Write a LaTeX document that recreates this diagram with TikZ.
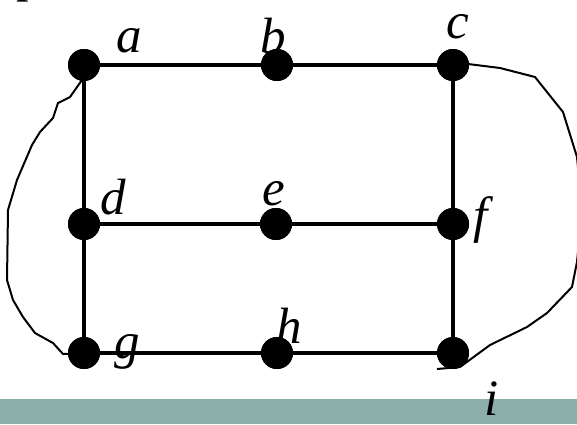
\documentclass[tikz,border=0pt]{standalone}
\usepackage{fontspec}
\setmainfont{Liberation Serif}
\begin{document}
\begin{tikzpicture}[x=1bp,y=-1bp,
  dot/.style={circle,fill=black,inner sep=0pt,minimum size=32bp},
  edge/.style={line width=4.3bp},
  wire/.style={line width=2bp,line join=round},
  lab/.style={anchor=base west,inner sep=0pt,font=\fontsize{51bp}{51bp}\selectfont\itshape}]
\useasboundingbox (0,0) rectangle (577,424);
\clip (0,0) rectangle (577,424);
\fill[color={rgb,255:red,139;green,174;blue,171}] (0,399) rectangle (577,424);
\node[anchor=base west,inner sep=0pt,font=\fontsize{50bp}{50bp}\selectfont] (ptitle) at (16,-9) {p};
% dots
\node[dot] (a) at (84,65) {};
\node[dot] (b) at (277,65) {};
\node[dot] (c) at (453,65) {};
\node[dot] (d) at (84,224) {};
\node[dot] (e) at (276,224) {};
\node[dot] (f) at (453,224) {};
\node[dot] (g) at (84,353) {};
\node[dot] (h) at (277,353) {};
\node[dot] (i) at (453,353) {};
% edges
\draw[edge] (a) -- (b) -- (c);
\draw[edge] (d) -- (e) -- (f);
\draw[edge] (g) -- (h) -- (i);
\draw[edge] (a) -- (d) -- (g);
\draw[edge] (c) -- (f) -- (i);
% curves
\coordinate (iend) at (437,369);
\draw[wire] (a.center) -- (82,80) -- (70,97) -- (58,103) -- (53,118) -- (40,132) -- (32,145) -- (17,180) -- (8,210) -- (7,280) -- (13,300) -- (23,317) -- (35,333) -- (53,343) -- (63,354) -- (g.center);
\draw[wire] (c.center) -- (468,64) -- (500,68) -- (535,77) -- (563,112) -- (577,157) -- (582,210) -- (577,262) -- (572,287) -- (547,313) -- (527,327) -- (490,345) -- (460,367) -- (iend);
\foreach \n in {a,b,c,d,e,f,g,h,i} \fill (\n) circle (16bp);
% labels
\node[lab] (la) at (116,52) {a};
\node[lab] (lb) at (260,53) {b};
\node[lab] (lc) at (446,38) {c};
\node[lab] (ld) at (100,214) {d};
\node[lab] (le) at (262,205) {e};
\node[lab] (lf) at (473,232) {f};
\node[lab] (lg) at (114,358) {g};
\node[lab] (lh) at (276,343) {h};
\node[lab] (li) at (484,415) {i};
\end{tikzpicture}
\end{document}
